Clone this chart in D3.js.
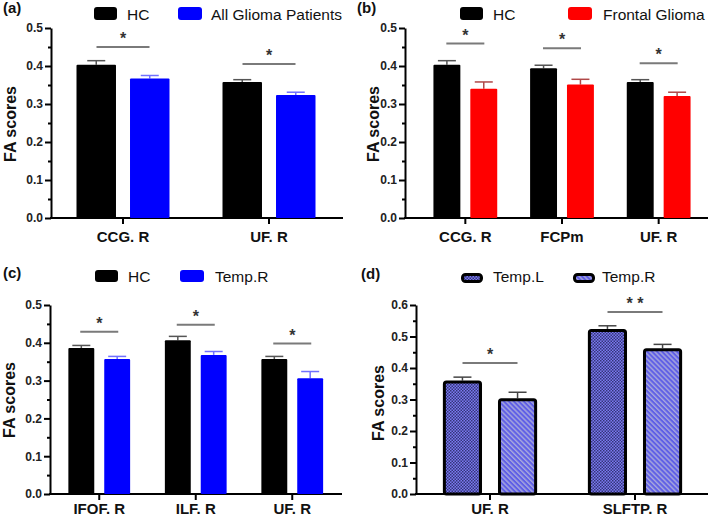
<!DOCTYPE html>
<html><head><meta charset="utf-8">
<script src="https://cdn.jsdelivr.net/npm/d3@7"></script>
<style>
html,body{margin:0;padding:0;background:#fff;}
svg{display:block;font-family:"Liberation Sans",Arial,sans-serif;}
</style></head>
<body>
<svg id="chart" width="709" height="518"></svg>
<script>
// ---------------- DATA ----------------
// Panel (a)
const aCategories = ["CCG. R", "UF. R"];
const aSeries = ["HC", "All Glioma Patients"];
const aHC = [0.403, 0.358];
const aHCsem = [0.011, 0.006];
const aGlioma = [0.367, 0.324];
const aGliomaSem = [0.008, 0.007];
const aSigY = [0.45, 0.405];
const aSigText = ["*", "*"];

// Panel (b)
const bCategories = ["CCG. R", "FCPm", "UF. R"];
const bSeries = ["HC", "Frontal Glioma"];
const bHC = [0.403, 0.394, 0.358];
const bHCsem = [0.011, 0.008, 0.006];
const bFrontal = [0.340, 0.351, 0.321];
const bFrontalSem = [0.018, 0.014, 0.010];
const bSigY = [0.459, 0.447, 0.407];
const bSigText = ["*", "*", "*"];

// Panel (c)
const cCategories = ["IFOF. R", "ILF. R", "UF. R"];
const cSeries = ["HC", "Temp.R"];
const cHC = [0.386, 0.407, 0.357];
const cHCsem = [0.007, 0.010, 0.007];
const cTempR = [0.357, 0.368, 0.306];
const cTempRsem = [0.007, 0.009, 0.018];
const cSigY = [0.429, 0.448, 0.398];
const cSigText = ["*", "*", "*"];

// Panel (d)
const dCategories = ["UF. R", "SLFTP. R"];
const dSeries = ["Temp.L", "Temp.R"];
const dTempL = [0.360, 0.524];
const dTempLsem = [0.011, 0.010];
const dTempR = [0.304, 0.463];
const dTempRsem = [0.019, 0.012];
const dSigY = [0.416, 0.578];
const dSigText = ["*", "* *"];

const yTicks5 = [0, 0.1, 0.2, 0.3, 0.4, 0.5];
const yTicks6 = [0, 0.1, 0.2, 0.3, 0.4, 0.5, 0.6];
const yLabel = "FA scores";

// ---------------- DRAW ----------------
const svg = d3.select("#chart");
const defs = svg.append("defs");

const chk = defs.append("pattern").attr("id", "checker")
  .attr("patternUnits", "userSpaceOnUse").attr("width", 3).attr("height", 3);
chk.append("rect").attr("width", 3).attr("height", 3).attr("fill", "#7a7af0");
chk.append("rect").attr("width", 1.5).attr("height", 1.5).attr("fill", "#34347a");
chk.append("rect").attr("x", 1.5).attr("y", 1.5).attr("width", 1.5).attr("height", 1.5).attr("fill", "#34347a");

const str = defs.append("pattern").attr("id", "stripes")
  .attr("patternUnits", "userSpaceOnUse").attr("width", 3.5).attr("height", 3.5)
  .attr("patternTransform", "rotate(-45)");
str.append("rect").attr("width", 3.5).attr("height", 3.5).attr("fill", "#5f5fe6");
str.append("rect").attr("width", 1.4).attr("height", 3.5).attr("fill", "#a9a9dc");

const FONT = "'Liberation Sans', Arial, sans-serif";

function panel(cfg) {
  const g = svg.append("g");
  const y = d3.scaleLinear().domain([0, cfg.ymax]).range([cfg.y0, cfg.yTop]);
  const x = d3.scaleBand().domain(cfg.categories).range(cfg.bandRange).paddingInner(0).paddingOuter(0);
  const innerW = x.bandwidth() * cfg.innerFrac;
  const xi = d3.scaleBand().domain(cfg.series).range([0, innerW]).paddingInner(cfg.innerPad).paddingOuter(0);
  const offset = (x.bandwidth() - innerW) / 2;

  // y axis
  const yAx = g.append("g").attr("transform", `translate(${cfg.yAxisX},0)`)
    .call(d3.axisLeft(y).tickValues(cfg.yTicks).tickFormat(d3.format(".1f")).tickSize(6).tickSizeOuter(0));
  yAx.select(".domain").attr("stroke", "#000").attr("stroke-width", 2);
  yAx.selectAll(".tick line").attr("stroke", "#000").attr("stroke-width", 2);
  yAx.selectAll(".tick text").attr("font-family", FONT).attr("font-size", 12).attr("font-weight", "bold").attr("fill", "#222").attr("x", -8);
  const minor = cfg.yTicks.slice(0, -1).map(v => v + 0.05);
  const yMin = g.append("g").attr("transform", `translate(${cfg.yAxisX},0)`)
    .call(d3.axisLeft(y).tickValues(minor).tickFormat("").tickSize(3).tickSizeOuter(0));
  yMin.select(".domain").remove();
  yMin.selectAll(".tick line").attr("stroke", "#000").attr("stroke-width", 2);

  // x axis
  const xAx = g.append("g").attr("transform", `translate(0,${cfg.y0})`)
    .call(d3.axisBottom(x).tickSize(6).tickSizeOuter(0).tickPadding(8));
  xAx.select(".domain").remove();
  xAx.selectAll(".tick line").attr("stroke", "#000").attr("stroke-width", 2);
  xAx.selectAll(".tick text").remove();
  g.append("line").attr("x1", cfg.yAxisX - 1).attr("x2", cfg.xAxisEnd)
    .attr("y1", cfg.y0).attr("y2", cfg.y0).attr("stroke", "#000").attr("stroke-width", 2);
  g.selectAll("text.xl").data(cfg.categories).join("text").attr("class", "xl")
    .attr("x", d => x(d) + x.bandwidth() / 2).attr("y", cfg.xLabelY)
    .attr("text-anchor", "middle").attr("font-family", FONT).attr("font-size", 15)
    .attr("font-weight", "bold").attr("fill", "#111").text(d => d);

  // bars
  cfg.series.forEach((s, si) => {
    const vals = cfg.values[si], sems = cfg.sems[si];
    const sw = cfg.outline ? 3 : 0;
    cfg.categories.forEach((c, ci) => {
      const bx = x(c) + offset + xi(s);
      const bw = xi.bandwidth();
      const cx = bx + bw / 2;
      const top = y(vals[ci] + sems[ci]);
      g.append("line").attr("x1", cx).attr("x2", cx).attr("y1", y(vals[ci])).attr("y2", top)
        .attr("stroke", cfg.errColors[si]).attr("stroke-width", 1.5);
      g.append("line").attr("x1", cx - 9).attr("x2", cx + 9).attr("y1", top).attr("y2", top)
        .attr("stroke", cfg.errColors[si]).attr("stroke-width", 1.5);
      g.append("rect").attr("x", bx + sw / 2).attr("y", y(vals[ci]) + sw / 2)
        .attr("width", bw - sw).attr("height", cfg.y0 - y(vals[ci]) - sw / 2)
        .attr("fill", cfg.fills[si])
        .attr("stroke", cfg.outline ? "#000" : "none").attr("stroke-width", sw)
        .attr("rx", cfg.outline ? 2 : 1);
    });
  });

  // significance
  cfg.categories.forEach((c, ci) => {
    const cx = x(c) + x.bandwidth() / 2;
    const yy = y(cfg.sigY[ci]);
    g.append("line").attr("x1", cx - cfg.sigHalf).attr("x2", cx + cfg.sigHalf)
      .attr("y1", yy).attr("y2", yy).attr("stroke", "#7a7a7a").attr("stroke-width", 2);
    g.append("text").attr("x", cx).attr("y", yy - 3).attr("text-anchor", "middle")
      .attr("font-family", FONT).attr("font-size", 16).attr("font-weight", "bold")
      .attr("fill", "#333").text(cfg.sigText[ci]);
  });

  // y label
  g.append("text").attr("transform", `translate(${cfg.yLabelX},${cfg.yLabelY}) rotate(-90)`)
    .attr("text-anchor", "middle").attr("font-family", FONT).attr("font-size", 16)
    .attr("font-weight", "bold").attr("fill", "#111").text(yLabel);

  // panel letter
  g.append("text").attr("x", cfg.letterX).attr("y", cfg.letterY)
    .attr("font-family", FONT).attr("font-size", 15).attr("font-weight", "bold")
    .attr("fill", "#111").text(cfg.letter);

  // legend
  cfg.series.forEach((s, si) => {
    const L = cfg.legend[si];
    g.append("rect").attr("x", L.x + (cfg.outline ? 1.5 : 0)).attr("y", cfg.legRectY + (cfg.outline ? 1.5 : 0))
      .attr("width", L.w - (cfg.outline ? 3 : 0)).attr("height", cfg.legRectH - (cfg.outline ? 3 : 0))
      .attr("rx", 3).attr("fill", cfg.fills[si])
      .attr("stroke", cfg.outline ? "#000" : "none").attr("stroke-width", cfg.outline ? 3 : 0);
    g.append("text").attr("x", L.tx).attr("y", cfg.legTextY)
      .attr("font-family", FONT).attr("font-size", 15.5).attr("fill", "#111").text(s);
  });
}

panel({
  categories: aCategories, series: aSeries, values: [aHC, aGlioma], sems: [aHCsem, aGliomaSem],
  sigY: aSigY, sigText: aSigText, ymax: 0.5, yTicks: yTicks5,
  yAxisX: 51, y0: 218, yTop: 28, xAxisEnd: 343, bandRange: [50, 342], innerFrac: 0.637, innerPad: 0.262,
  xLabelY: 242, fills: ["#000", "#0000ff"], errColors: ["#555", "#7070ff"], sigHalf: 26.5,
  yLabelX: 16, yLabelY: 124, letter: "(a)", letterX: 3, letterY: 13,
  legend: [{x: 94, w: 23, tx: 127}, {x: 178, w: 24, tx: 211}], legRectY: 7, legRectH: 13, legTextY: 19.5
});
panel({
  categories: bCategories, series: bSeries, values: [bHC, bFrontal], sems: [bHCsem, bFrontalSem],
  sigY: bSigY, sigText: bSigText, ymax: 0.5, yTicks: yTicks5,
  yAxisX: 405, y0: 218, yTop: 28, xAxisEnd: 708, bandRange: [417, 707], innerFrac: 0.66, innerPad: 0.27,
  xLabelY: 242, fills: ["#000", "#ff0000"], errColors: ["#555", "#b04848"], sigHalf: 19,
  yLabelX: 379, yLabelY: 124, letter: "(b)", letterX: 357, letterY: 13,
  legend: [{x: 460, w: 23, tx: 493}, {x: 568, w: 24, tx: 603}], legRectY: 7, legRectH: 13, legTextY: 19.5
});
panel({
  categories: cCategories, series: cSeries, values: [cHC, cTempR], sems: [cHCsem, cTempRsem],
  sigY: cSigY, sigText: cSigText, ymax: 0.5, yTicks: yTicks5,
  yAxisX: 50, y0: 494, yTop: 305, xAxisEnd: 342, bandRange: [51, 340.5], innerFrac: 0.64, innerPad: 0.278,
  xLabelY: 514, fills: ["#000", "#0000ff"], errColors: ["#555", "#7070ff"], sigHalf: 19,
  yLabelX: 15, yLabelY: 400, letter: "(c)", letterX: 3, letterY: 278,
  legend: [{x: 95, w: 23, tx: 128}, {x: 180, w: 24, tx: 215}], legRectY: 270, legRectH: 12, legTextY: 282
});
panel({
  categories: dCategories, series: dSeries, values: [dTempL, dTempR], sems: [dTempLsem, dTempRsem],
  sigY: dSigY, sigText: dSigText, ymax: 0.6, yTicks: yTicks6,
  yAxisX: 416, y0: 494, yTop: 305, xAxisEnd: 708, bandRange: [417.5, 707.5], innerFrac: 0.65, innerPad: 0.29,
  xLabelY: 514, fills: ["url(#checker)", "url(#stripes)"], errColors: ["#444", "#444"], sigHalf: 27.5,
  yLabelX: 384, yLabelY: 403, letter: "(d)", letterX: 361, letterY: 279, outline: true,
  legend: [{x: 461, w: 22, tx: 493}, {x: 573, w: 22, tx: 602}], legRectY: 273, legRectH: 10, legTextY: 282
});
</script>
</body></html>
